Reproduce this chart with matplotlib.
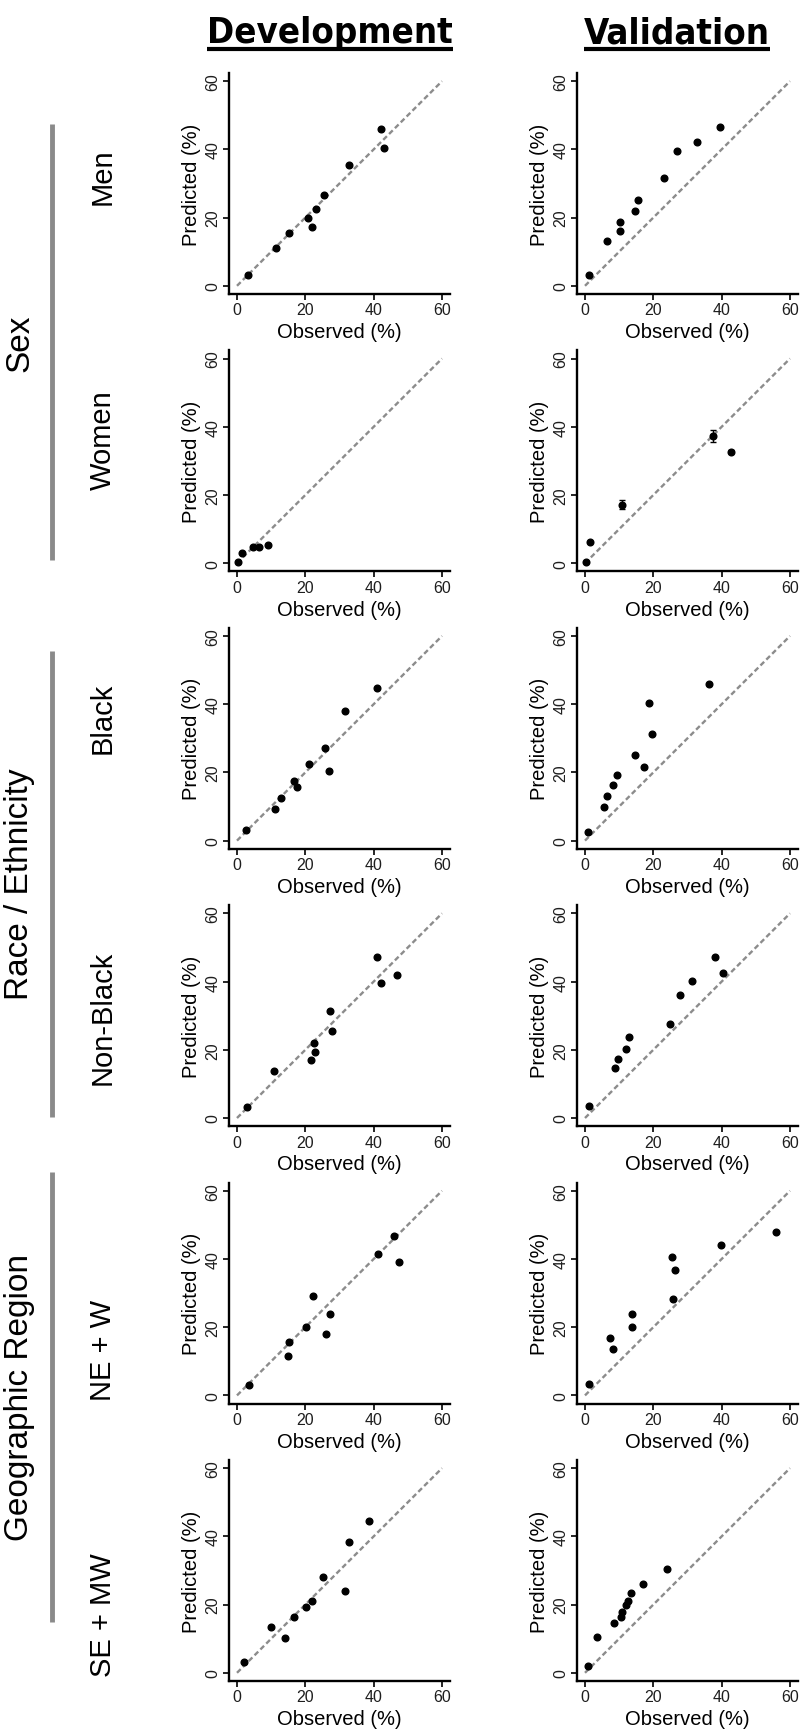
import matplotlib
matplotlib.use("Agg")
import matplotlib.pyplot as plt
from matplotlib.lines import Line2D
from matplotlib import font_manager as fm

plt.rcParams['font.family'] = ['Liberation Sans', 'DejaVu Sans']

# ---------------- data ----------------
columns = ["Development", "Validation"]
row_labels = ["Men", "Women", "Black", "Non-Black", "NE + W", "SE + MW"]
sections = ["Sex", "Race / Ethnicity", "Geographic Region"]
ticks = [0, 20, 40, 60]

dev_men_obs = [3.1, 11.4, 15.2, 20.9, 22.0, 23.2, 25.4, 32.8, 42.0, 43.1]
dev_men_pred = [3.2, 11.0, 15.4, 19.8, 17.2, 22.4, 26.5, 35.4, 45.9, 40.3]
val_men_obs = [1.3, 6.4, 10.3, 10.2, 14.7, 15.4, 23.1, 26.8, 32.7, 39.4]
val_men_pred = [3.3, 13.1, 18.7, 16.0, 21.8, 25.3, 31.5, 39.5, 42.1, 46.7]

dev_women_obs = [0.3, 1.6, 4.6, 6.4, 9.1]
dev_women_pred = [0.3, 3.0, 4.9, 4.9, 5.3]
val_women_obs = [0.2, 1.6, 10.8, 37.4, 42.7]
val_women_pred = [0.5, 6.3, 17.2, 37.3, 32.7]
val_women_err = [0.0, 0.0, 1.2, 1.9, 0.5]

dev_black_obs = [2.7, 11.2, 12.9, 16.7, 17.7, 21.2, 25.9, 26.8, 31.5, 41.1]
dev_black_pred = [3.0, 9.4, 12.6, 17.6, 15.8, 22.6, 27.2, 20.4, 37.9, 44.7]
val_black_obs = [0.9, 5.7, 6.4, 8.3, 9.4, 14.7, 17.2, 18.8, 19.5, 36.2]
val_black_pred = [2.6, 9.8, 13.0, 16.3, 19.3, 25.1, 21.7, 40.3, 31.4, 46.0]

dev_nonblack_obs = [2.9, 10.8, 21.6, 22.5, 22.9, 27.2, 27.8, 41.0, 42.0, 46.9]
dev_nonblack_pred = [3.2, 13.7, 17.1, 22.0, 19.3, 31.4, 25.5, 47.2, 39.6, 42.0]
val_nonblack_obs = [1.2, 8.7, 9.6, 12.0, 13.0, 25.0, 27.7, 31.2, 38.0, 40.5]
val_nonblack_pred = [3.5, 14.6, 17.3, 20.3, 23.9, 27.6, 36.2, 40.3, 47.1, 42.6]

dev_new_obs = [3.4, 14.9, 15.3, 20.1, 22.2, 26.1, 27.3, 41.4, 46.0, 47.4]
dev_new_pred = [3.2, 11.6, 15.8, 20.2, 29.2, 18.0, 23.9, 41.4, 46.8, 39.0]
val_new_obs = [1.3, 7.4, 8.1, 13.7, 13.7, 25.5, 25.8, 26.3, 39.9, 55.9]
val_new_pred = [3.3, 16.9, 13.5, 20.2, 23.8, 40.5, 28.2, 36.8, 44.0, 47.8]

dev_semw_obs = [2.1, 9.9, 14.0, 16.6, 20.2, 21.9, 25.3, 31.7, 32.8, 38.7]
dev_semw_pred = [3.1, 13.4, 10.1, 16.4, 19.3, 21.1, 28.0, 23.9, 38.4, 44.5]
val_semw_obs = [1.0, 3.5, 8.5, 10.5, 10.7, 12.0, 12.5, 13.5, 17.0, 24.0]
val_semw_pred = [2.0, 10.5, 14.5, 16.5, 17.8, 19.8, 21.0, 23.5, 26.0, 30.5]

panels = [
    [(dev_men_obs, dev_men_pred, None), (val_men_obs, val_men_pred, None)],
    [(dev_women_obs, dev_women_pred, None), (val_women_obs, val_women_pred, val_women_err)],
    [(dev_black_obs, dev_black_pred, None), (val_black_obs, val_black_pred, None)],
    [(dev_nonblack_obs, dev_nonblack_pred, None), (val_nonblack_obs, val_nonblack_pred, None)],
    [(dev_new_obs, dev_new_pred, None), (val_new_obs, val_new_pred, None)],
    [(dev_semw_obs, dev_semw_pred, None), (val_semw_obs, val_semw_pred, None)],
]

# ---------------- title font: pick a narrow/condensed bold face if available ----------------
title_family = None
candidates = [("Liberation Sans Narrow", "normal"), ("Open Sans", "condensed"),
              ("Noto Sans", "condensed"), ("Roboto", "condensed"),
              ("DejaVu Sans", "condensed")]
for fam, stretch in candidates:
    try:
        fp = fm.FontProperties(family=fam, weight="bold", stretch=stretch)
        path = fm.findfont(fp, fallback_to_default=False)
        low = path.lower()
        if "narrow" in low or "condensed" in low:
            title_family = (fam, stretch)
            break
    except Exception:
        pass

# ---------------- layout ----------------
W, H = 800, 1733
fig = plt.figure(figsize=(W / 100, H / 100), dpi=100)

ax_w, ax_h = 221.4, 221.0
lefts = [228.8, 576.8]
top0, pitch = 74.0, 277.4

for r in range(6):
    for c in range(2):
        top = top0 + pitch * r
        ax = fig.add_axes([lefts[c] / W, 1 - (top + ax_h) / H, ax_w / W, ax_h / H])
        obs, pred, err = panels[r][c]
        ax.plot([0, 60], [0, 60], color="#8c8c8c", lw=1.7,
                ls=(0, (2.2, 1.3)), zorder=1)
        if err is not None:
            ax.errorbar(obs, pred, yerr=err, fmt="none", ecolor="black",
                        elinewidth=1.0, capsize=2.5, capthick=1.0, zorder=2)
        ax.plot(obs, pred, "o", color="black", ms=4.8, zorder=3)
        ax.set_xlim(-2.4, 62.4)
        ax.set_ylim(-2.4, 62.4)
        for s in ("top", "right"):
            ax.spines[s].set_visible(False)
        for s in ("left", "bottom"):
            ax.spines[s].set_linewidth(1.7)
            ax.spines[s].set_color("black")
        ax.set_xticks(ticks)
        ax.set_yticks(ticks)
        ax.tick_params(length=4, width=1.2, labelsize=11.5, pad=2,
                       labelcolor="#1e1e1e")
        ax.tick_params(axis="y", labelrotation=90)
        for lab in ax.get_yticklabels():
            lab.set_va("center")
        ax.set_xlabel("Observed (%)", fontsize=14.5, labelpad=3.5)
        ax.set_ylabel("Predicted (%)", fontsize=14.5, labelpad=3)
        ax.patch.set_alpha(0)

# column titles (bold, condensed, underlined); size fitted to target width
title_x = [330, 677]
target_w = 245.0
kw = dict(ha="center", va="baseline", fontweight="bold")
if title_family is not None:
    kw["family"] = [title_family[0], "Liberation Sans", "DejaVu Sans"]
    kw["fontstretch"] = title_family[1]
else:
    kw["family"] = ["Liberation Sans", "DejaVu Sans"]
probe = fig.text(0.5, 0.5, columns[0], fontsize=30, **kw)
fig.canvas.draw()
pw = probe.get_window_extent(fig.canvas.get_renderer()).width
probe.remove()
title_size = 30 * target_w / pw

titles = []
for c, name in enumerate(columns):
    t = fig.text(title_x[c] / W, 1 - 43 / H, name, fontsize=title_size, **kw)
    titles.append(t)

fig.canvas.draw()
renderer = fig.canvas.get_renderer()
for t in titles:
    bb = t.get_window_extent(renderer)
    yline = 1 - 50 / H
    fig.add_artist(Line2D([bb.x0 / W, bb.x1 / W], [yline, yline],
                          transform=fig.transFigure, color="black", lw=3.0,
                          solid_capstyle="butt"))

# row labels
row_y = [177, 440, 718, 1018, 1350, 1615]
for r, lab in enumerate(row_labels):
    fig.text(103 / W, 1 - row_y[r] / H, lab, rotation=90, ha="center", va="center",
             fontsize=21)

# section labels and grey bars
sec_y = [343, 884, 1398]
bars = [(125, 561), (652, 1118), (1173, 1623)]
for s, lab in enumerate(sections):
    fig.text(20 / W, 1 - sec_y[s] / H, lab, rotation=90, ha="center",
             va="center", fontsize=24)
    y0, y1 = bars[s]
    fig.add_artist(Line2D([52 / W, 52 / W], [1 - y0 / H, 1 - y1 / H],
                          transform=fig.transFigure, color="#8a8a8a", lw=3.5,
                          solid_capstyle="butt"))

fig.savefig("out.png", dpi=100)
